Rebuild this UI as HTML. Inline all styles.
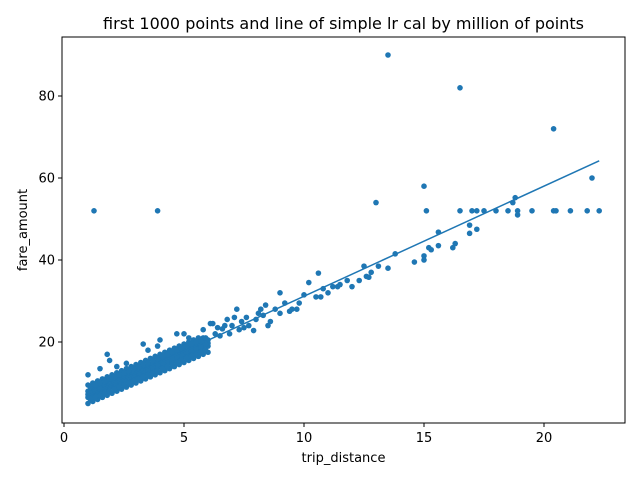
<!DOCTYPE html>
<html><head><meta charset="utf-8"><style>
body{margin:0;background:#fff;font-family:"DejaVu Sans","Liberation Sans",sans-serif;}
svg text{font-family:"DejaVu Sans","Liberation Sans",sans-serif;fill:#000}
</style></head><body>
<svg id="chart" width="640" height="480" xmlns="http://www.w3.org/2000/svg">
<rect width="640" height="480" fill="#fff"/>
<text x="343.5" y="29" font-size="16" text-anchor="middle">first 1000 points and line of simple lr cal by million of points</text>
<g id="marks"></g>
<rect x="62" y="37" width="563" height="386" fill="none" stroke="#000" stroke-width="1"/>
<g id="axes"></g>
<text x="343.5" y="462" font-size="13" text-anchor="middle">trip_distance</text>
<text transform="translate(27,230) rotate(-90)" font-size="13" text-anchor="middle">fare_amount</text>
</svg>
<script>
const xTicks=[0,5,10,15,20];
const yTicks=[20,40,60,80];
const lineX=[1.0,22.3];
const lineY=[7.0,64.2];
const denseX=[1.0,1.2,1.4,1.6,1.8,2.0,2.2,2.4,2.6,2.8,3.0,3.2,3.4,3.6,3.8,4.0,4.2,4.4,4.6,4.8,5.0,5.2,5.4,5.6,5.8,6.0];
const denseY=[[5,6.5,8,9.5,7.2],[5.5,7,8.5,10,7.7],[6,7.5,9,10.5,8.2],[6.5,8,9.5,11,8.7],[7,8.5,10,11.5,9.2],[7.5,9,10.5,12,9.7],[8,9.5,11,12.5,10.2],[8.5,10,11.5,13,10.7],[9,10.5,12,13.5,11.2],[9.5,11,12.5,14,11.7],[10,11.5,13,14.5,12.2],[10.5,12,13.5,15,12.7],[11,12.5,14,15.5,13.2],[11.5,13,14.5,16,13.7],[12,13.5,15,16.5,14.2],[12.5,14,15.5,17,14.7],[13,14.5,16,17.5,15.2],[13.5,15,16.5,18,15.7],[14,15.5,17,18.5,16.2],[14.5,16,17.5,19,16.7],[15,16.5,18,19.5,17.2],[15.5,17,18.5,20,17.7],[16,17.5,19,20.5,18.2],[16.5,18,19.5,21,18.7],[17,18.5,20,21,19.2],[17.5,19,20.5,19.7]];
const midX=[1.1,1.3,1.5,1.7,1.9,2.1,2.3,2.5,2.7,2.9,3.1,3.3,3.5,3.7,3.9,4.1,4.3,4.5,4.7,4.9,5.1,5.3,5.5,5.7,5.9];
const midY=[[6,7.5,9],[6.5,8,9.5],[7,8.5,10],[7.5,9,10.5],[8,9.5,11],[8.5,10,11.5],[9,10.5,12],[9.5,11,12.5],[10,11.5,13],[10.5,12,13.5],[11,12.5,14],[11.5,13,14.5],[12,13.5,15],[12.5,14,15.5],[13,14.5,16],[13.5,15,16.5],[14,15.5,17],[14.5,16,17.5],[15,16.5,18],[15.5,17,18.5],[16,17.5,19],[16.5,18,19.5],[17,18.5,20],[17.5,19,20.5],[18,19.5,21]];
const sparseX=[1.0,1.5,1.8,1.9,2.2,2.6,3.3,3.5,3.9,4.0,4.7,5.0,5.2,6.2,6.4,6.6,6.3,6.5,6.7,6.9,7.0,7.1,7.2,7.3,7.5,7.7,7.9,8.0,8.1,8.2,8.4,8.5,8.6,8.8,9.0,9.0,9.4,9.5,9.7,9.8,10.0,10.2,10.5,10.6,10.7,10.8,11.0,11.2,11.4,11.5,11.8,12.0,12.3,12.5,12.6,12.7,12.8,13.1,13.5,13.8,14.6,15.0,15.0,15.2,15.3,15.6,16.2,16.3,15.6,16.9,16.9,17.2,18.7,18.8,18.9,1.25,3.9,13.5,16.5,20.4,22.0,13.0,15.0,15.1,16.5,17.0,17.2,17.5,18.0,18.5,18.9,19.5,20.4,20.5,21.1,21.8,22.3,6.1,5.8,5.7,7.4,8.3,9.2,6.8,7.6];
const sparseY=[12,13.5,17,15.5,14,14.8,19.5,18,19,20.5,22,22,21,24.5,23.5,23.2,22,21.5,24,22,24,26,28,23,23.5,24,22.8,25.5,27,28,29,24,25,28,32,27,27.5,28,28,29.5,31.5,34.5,31,36.8,31,33,32,33.5,33.5,34,35,33.5,35,38.5,36,35.8,37,38.5,38,41.5,39.5,41,40,43,42.5,43.5,43,44,46.8,48.5,46.5,47.5,54,55.2,51,52,52,90,82,72,60,54,58,52,52,52,52,52,52,52,52,52,52,52,52,52,52,24.5,23,20,25,26.5,29.5,25.5,26];
const X=v=>64+24*v, Y=v=>424-4.1*v;
const NS="http://www.w3.org/2000/svg";
const marks=document.getElementById('marks');
function dot(x,y){const c=document.createElementNS(NS,'circle');


c.setAttribute('cx',X(x));c.setAttribute('cy',Y(y));c.setAttribute('r',2.8);c.setAttribute('fill','#1f77b4');marks.appendChild(c);}
denseX.forEach((x,i)=>denseY[i].forEach(y=>dot(x,y)));
midX.forEach((x,i)=>midY[i].forEach(y=>dot(x,y)));
sparseX.forEach((x,i)=>dot(x,sparseY[i]));
const ln=document.createElementNS(NS,'line');


ln.setAttribute('x1',X(lineX[0]));ln.setAttribute('y1',Y(lineY[0]));ln.setAttribute('x2',X(lineX[1]));ln.setAttribute('y2',Y(lineY[1]));
ln.setAttribute('stroke','#1f77b4');ln.setAttribute('stroke-width','1.5');marks.appendChild(ln);
const axes=document.getElementById('axes');
xTicks.forEach(t=>{const l=document.createElementNS(NS,'line');


l.setAttribute('x1',X(t));l.setAttribute('x2',X(t));l.setAttribute('y1',423);l.setAttribute('y2',427);l.setAttribute('stroke','#000');axes.appendChild(l);
const tx=document.createElementNS(NS,'text');


tx.setAttribute('x',X(t));tx.setAttribute('y',442);tx.setAttribute('font-size','13');tx.setAttribute('text-anchor','middle');tx.textContent=t;axes.appendChild(tx);});
yTicks.forEach(t=>{const l=document.createElementNS(NS,'line');


l.setAttribute('x1',58);l.setAttribute('x2',62);l.setAttribute('y1',Y(t));l.setAttribute('y2',Y(t));l.setAttribute('stroke','#000');axes.appendChild(l);
const tx=document.createElementNS(NS,'text');


tx.setAttribute('x',55);tx.setAttribute('y',Y(t)+4.5);tx.setAttribute('font-size','13');tx.setAttribute('text-anchor','end');tx.textContent=t;axes.appendChild(tx);});
</script>
</body></html>
